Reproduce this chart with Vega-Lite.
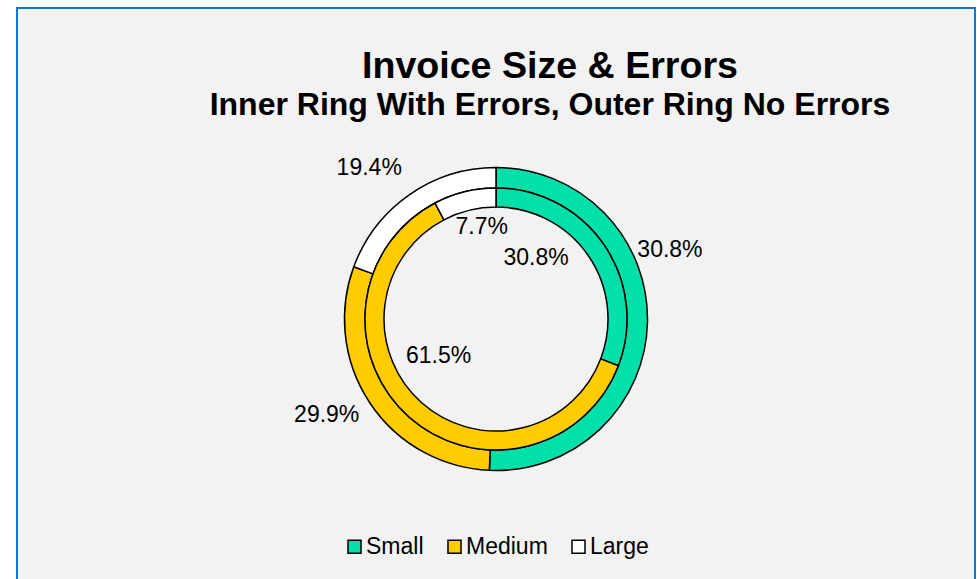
{
  "$schema": "https://vega.github.io/schema/vega-lite/v6.json",
  "width": 958,
  "height": 622,
  "autosize": {"type": "none"},
  "padding": {"left": 17, "top": 8, "right": 2, "bottom": -51},
  "background": "#ffffff",
  "view": {"fill": "#f2f2f2", "stroke": "#0a78d2", "strokeWidth": 2},
  "title": {
    "text": "Invoice Size & Errors",
    "subtitle": "Inner Ring With Errors, Outer Ring No Errors",
    "anchor": "middle",
    "frame": "group",
    "offset": -113,
    "dx": 54,
    "font": "Liberation Sans",
    "fontSize": 37.6,
    "fontWeight": "bold",
    "color": "#000000",
    "subtitleFont": "Liberation Sans",
    "subtitleFontSize": 32,
    "subtitleFontWeight": "bold",
    "subtitleColor": "#000000",
    "subtitlePadding": 4
  },
  "config": {
    "view": {"fill": "#f2f2f2", "stroke": "#0a78d2", "strokeWidth": 2},
    "legend": {"layout": {"bottom": {"anchor": "middle"}}}
  },
  "data": {
    "values": [
      {"ring": "outer", "size": "Small", "pct": 50.7, "label": "30.8%"},
      {"ring": "outer", "size": "Medium", "pct": 29.9, "label": "29.9%"},
      {"ring": "outer", "size": "Large", "pct": 19.4, "label": "19.4%"},
      {"ring": "inner", "size": "Small", "pct": 30.8, "label": "30.8%"},
      {"ring": "inner", "size": "Medium", "pct": 61.5, "label": "61.5%"},
      {"ring": "inner", "size": "Large", "pct": 7.7, "label": "7.7%"}
    ]
  },
  "encoding": {
    "theta": {"field": "pct", "type": "quantitative", "stack": true},
    "order": {"field": "size", "sort": "descending"}
  },
  "layer": [
    {
      "transform": [{"filter": "datum.ring === 'outer'"}],
      "mark": {"type": "arc", "innerRadius": 131, "outerRadius": 151.5, "stroke": "#000000", "strokeWidth": 1.5},
      "encoding": {
        "color": {
          "field": "size", "type": "nominal",
          "scale": {"domain": ["Small", "Medium", "Large"], "range": ["#00E0A8", "#FFCC00", "#FFFFFF"]},
          "legend": {
            "orient": "bottom", "direction": "horizontal", "title": null, "offset": -95,
            "symbolType": "square", "symbolSize": 170, "symbolStrokeColor": "#000000", "symbolStrokeWidth": 1.5,
            "labelFontSize": 23, "labelFont": "Liberation Sans", "labelColor": "#000000",
            "columnPadding": 19, "labelOffset": 0
          }
        }
      }
    },
    {
      "transform": [{"filter": "datum.ring === 'inner'"}],
      "mark": {"type": "arc", "innerRadius": 112, "outerRadius": 131, "stroke": "#000000", "strokeWidth": 1.5},
      "encoding": {"color": {"field": "size", "type": "nominal"}}
    },
    {
      "transform": [{"filter": "datum.ring === 'outer'"}],
      "mark": {"type": "text", "radius": 186, "dx": -12, "dy": -73, "fontSize": 23, "font": "Liberation Sans", "color": "#000000"},
      "encoding": {"detail": {"field": "size"}, "text": {"condition": {"test": "datum.size === 'Small'", "field": "label"}, "value": ""}}
    },
    {
      "transform": [{"filter": "datum.ring === 'outer'"}],
      "mark": {"type": "text", "radius": 195, "dx": -7, "dy": -12, "fontSize": 23, "font": "Liberation Sans", "color": "#000000"},
      "encoding": {"detail": {"field": "size"}, "text": {"condition": {"test": "datum.size === 'Medium'", "field": "label"}, "value": ""}}
    },
    {
      "transform": [{"filter": "datum.ring === 'outer'"}],
      "mark": {"type": "text", "radius": 197, "dx": -14, "dy": 11, "fontSize": 23, "font": "Liberation Sans", "color": "#000000"},
      "encoding": {"detail": {"field": "size"}, "text": {"condition": {"test": "datum.size === 'Large'", "field": "label"}, "value": ""}}
    },
    {
      "transform": [{"filter": "datum.ring === 'inner'"}],
      "mark": {"type": "text", "radius": 73, "dx": -20, "dy": -20, "fontSize": 23, "font": "Liberation Sans", "color": "#000000"},
      "encoding": {"detail": {"field": "size"}, "text": {"condition": {"test": "datum.size === 'Small'", "field": "label"}, "value": ""}}
    },
    {
      "transform": [{"filter": "datum.ring === 'inner'"}],
      "mark": {"type": "text", "radius": 70, "dx": -11, "dy": -15, "fontSize": 23, "font": "Liberation Sans", "color": "#000000"},
      "encoding": {"detail": {"field": "size"}, "text": {"condition": {"test": "datum.size === 'Medium'", "field": "label"}, "value": ""}}
    },
    {
      "transform": [{"filter": "datum.ring === 'inner'"}],
      "mark": {"type": "text", "radius": 93, "dx": 8, "dy": -2, "fontSize": 23, "font": "Liberation Sans", "color": "#000000"},
      "encoding": {"detail": {"field": "size"}, "text": {"condition": {"test": "datum.size === 'Large'", "field": "label"}, "value": ""}}
    }
  ]
}
